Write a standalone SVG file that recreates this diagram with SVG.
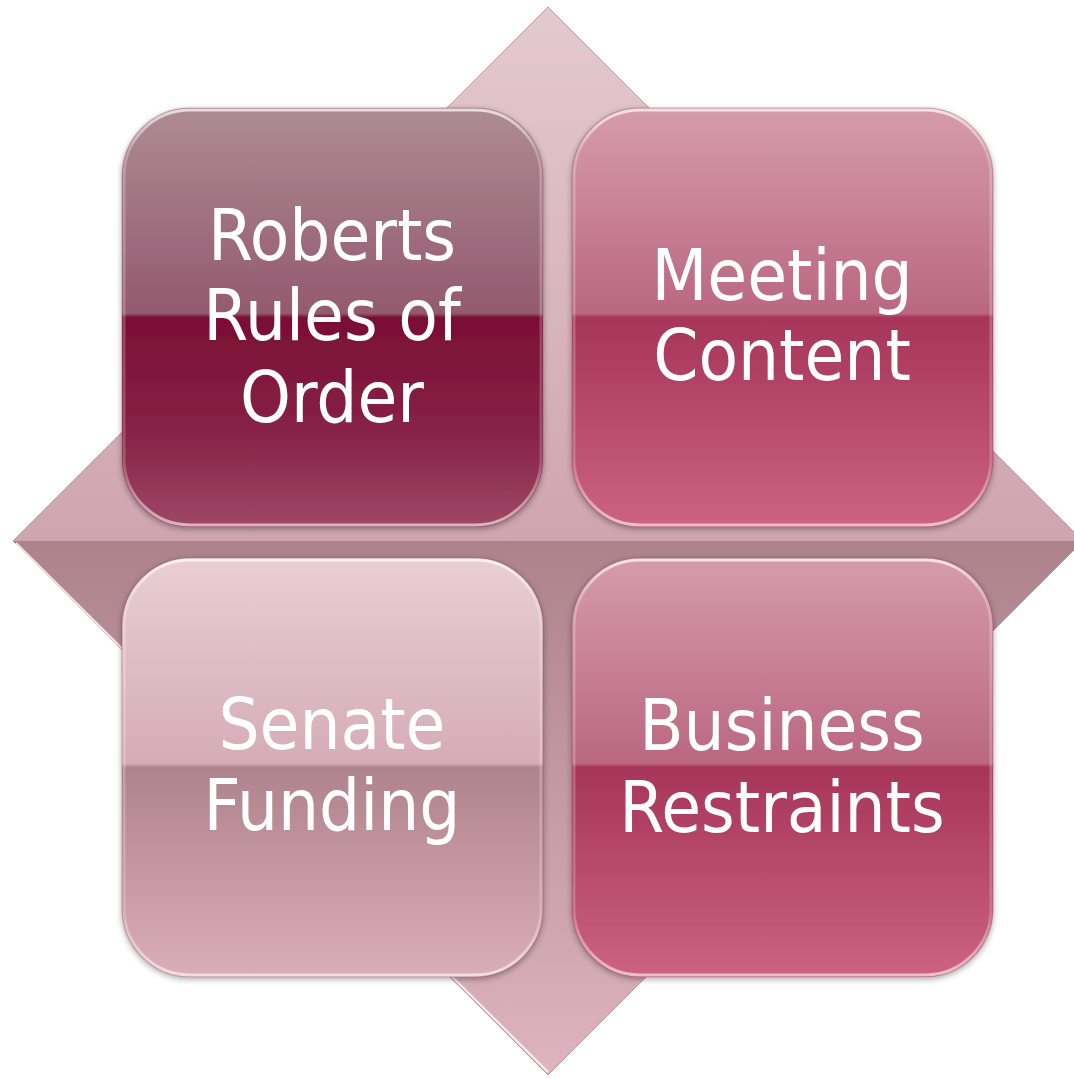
<svg xmlns="http://www.w3.org/2000/svg" width="1074" height="1078" viewBox="0 0 1074 1078">
<style>
.lbl{font-family:"DejaVu Sans Condensed","DejaVu Sans","Liberation Sans",sans-serif;font-stretch:condensed;font-size:72px;fill:#ffffff;text-anchor:middle}
.rim{fill:none;stroke:url(#rimg);stroke-width:3}
.edge{fill:none;stroke:#7a3a50;stroke-opacity:0.3;stroke-width:1.2}
</style>
<defs>
<linearGradient id="dTop" x1="0" y1="7" x2="0" y2="541" gradientUnits="userSpaceOnUse">
<stop offset="0" stop-color="#e4c9d0"/><stop offset="1" stop-color="#cfa5b0"/>
</linearGradient>
<linearGradient id="dBot" x1="0" y1="541" x2="0" y2="1075" gradientUnits="userSpaceOnUse">
<stop offset="0" stop-color="#ad828b"/><stop offset="1" stop-color="#ddb4bf"/>
</linearGradient>
<linearGradient id="g1" x1="0" y1="0" x2="0" y2="1">
<stop offset="0" stop-color="#ae8b95"/><stop offset="0.49" stop-color="#935a6e"/>
<stop offset="0.5" stop-color="#7a0e33"/><stop offset="0.78" stop-color="#872346"/><stop offset="1" stop-color="#9e4866"/>
</linearGradient>
<linearGradient id="g2" x1="0" y1="0" x2="0" y2="1">
<stop offset="0" stop-color="#d69cab"/><stop offset="0.49" stop-color="#ba6782"/>
<stop offset="0.5" stop-color="#a6355a"/><stop offset="0.8" stop-color="#bc5071"/><stop offset="1" stop-color="#cd6383"/>
</linearGradient>
<linearGradient id="g3" x1="0" y1="0" x2="0" y2="1">
<stop offset="0" stop-color="#e9ced5"/><stop offset="0.49" stop-color="#d5acb7"/>
<stop offset="0.5" stop-color="#af838e"/><stop offset="0.8" stop-color="#c99ca8"/><stop offset="1" stop-color="#d9adb9"/>
</linearGradient>
<linearGradient id="rimg" x1="0" y1="0" x2="0" y2="1">
<stop offset="0" stop-color="#ffffff" stop-opacity="0.7"/><stop offset="0.1" stop-color="#ffffff" stop-opacity="0.25"/>
<stop offset="0.85" stop-color="#ffffff" stop-opacity="0.2"/><stop offset="1" stop-color="#ffffff" stop-opacity="0.6"/>
</linearGradient>
<filter id="sh" x="-10%" y="-10%" width="120%" height="120%">
<feGaussianBlur in="SourceAlpha" stdDeviation="3"/>
<feOffset dx="0" dy="2" result="b"/>
<feComponentTransfer><feFuncA type="linear" slope="0.35"/></feComponentTransfer>
<feMerge><feMergeNode/><feMergeNode in="SourceGraphic"/></feMerge>
</filter>
</defs>

<g id="background-diamond">
<polygon points="13,541 548,7 1083,541" fill="url(#dTop)"/>
<polygon points="13,541 1083,541 548,1075" fill="url(#dBot)"/>
<polygon points="548,7 1083,541 548,1075 13,541" fill="none" stroke="#c095a0" stroke-width="1"/>
<polyline points="16,543 548,1072" fill="none" stroke="#ffffff" stroke-width="2" stroke-opacity="0.8"/>
</g>

<g id="connectors"></g>

<g id="node-roberts" filter="url(#sh)">
<rect x="122" y="108" width="421" height="419" rx="68" fill="url(#g1)"/>
<rect x="124" y="110" width="417" height="415" rx="66" class="rim"/>
<rect x="122" y="108" width="421" height="419" rx="68" class="edge"/>
<text class="lbl" x="332" y="260">Roberts</text>
<text class="lbl" x="332" y="340">Rules of</text>
<text class="lbl" x="332" y="422">Order</text>
</g>

<g id="node-meeting" filter="url(#sh)">
<rect x="572" y="108" width="421" height="419" rx="68" fill="url(#g2)"/>
<rect x="574" y="110" width="417" height="415" rx="66" class="rim"/>
<rect x="572" y="108" width="421" height="419" rx="68" class="edge"/>
<text class="lbl" x="782" y="300">Meeting</text>
<text class="lbl" x="782" y="380">Content</text>
</g>

<g id="node-senate" filter="url(#sh)">
<rect x="122" y="558" width="421" height="419" rx="68" fill="url(#g3)"/>
<rect x="124" y="560" width="417" height="415" rx="66" class="rim"/>
<rect x="122" y="558" width="421" height="419" rx="68" class="edge"/>
<text class="lbl" x="332" y="749">Senate</text>
<text class="lbl" x="332" y="830">Funding</text>
</g>

<g id="node-business" filter="url(#sh)">
<rect x="572" y="558" width="421" height="419" rx="68" fill="url(#g2)"/>
<rect x="574" y="560" width="417" height="415" rx="66" class="rim"/>
<rect x="572" y="558" width="421" height="419" rx="68" class="edge"/>
<text class="lbl" x="782" y="750">Business</text>
<text class="lbl" x="782" y="832">Restraints</text>
</g>
</svg>
